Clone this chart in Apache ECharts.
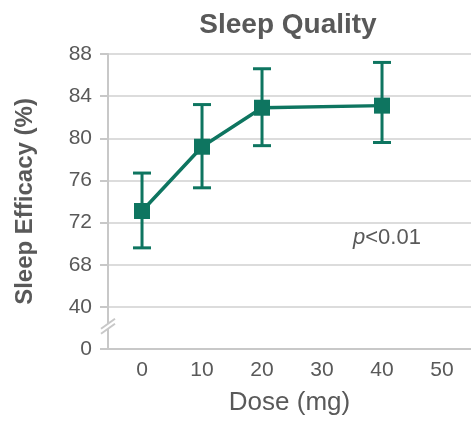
<!DOCTYPE html>
<html>
<head>
<meta charset="utf-8">
<script src="https://cdn.jsdelivr.net/npm/echarts@6/dist/echarts.min.js"></script>
<style>html,body{margin:0;padding:0;background:#fff}#c{width:471px;height:424px}</style>
</head>
<body>
<div id="c"></div>
<script>
const doses = [0, 10, 20, 40];
const meanEff = [73.1, 79.2, 82.9, 83.1];
const errLow = [69.6, 75.3, 79.3, 79.6];
const errHigh = [76.7, 83.2, 86.6, 87.2];
const yTickValues = [0, 40, 68, 72, 76, 80, 84, 88];
const xTickValues = [0, 10, 20, 30, 40, 50];

// broken axis: each tick gets an equal slot
function toPos(v) {
  for (let i = 0; i < yTickValues.length - 1; i++) {
    const a = yTickValues[i], b = yTickValues[i + 1];
    if (v <= b || i === yTickValues.length - 2) return i + (v - a) / (b - a);
  }
}

const teal = '#0e7560';
const txt = '#595959';
const font = 'Liberation Sans, Arial, sans-serif';

const chart = echarts.init(document.getElementById('c'));
const lineData = doses.map((d, i) => [d, toPos(meanEff[i])]);
const errData = doses.map((d, i) => [d, toPos(errLow[i]), toPos(errHigh[i])]);

chart.setOption({
  animation: false,
  title: {
    text: 'Sleep Quality', left: 288, top: 11, textAlign: 'center', padding: 0,
    textStyle: { fontFamily: font, fontSize: 28, fontWeight: 'bold', color: txt }
  },
  grid: { left: 108, right: 0, top: 54, bottom: 75, containLabel: false },
  xAxis: {
    type: 'value', min: -5.67, max: 54.83,
    name: 'Dose (mg)', nameLocation: 'middle', nameGap: 41,
    nameTextStyle: { fontFamily: font, fontSize: 26, color: txt },
    axisLine: { show: true, lineStyle: { color: '#c8c8c8', width: 2 } },
    axisTick: { show: false },
    splitLine: { show: false },
    axisLabel: { customValues: xTickValues, fontFamily: font, fontSize: 21, color: txt, margin: 11 }
  },
  yAxis: {
    type: 'value', min: 0, max: yTickValues.length - 1, interval: 1,
    name: 'Sleep Efficacy (%)', nameLocation: 'middle', nameGap: 71,
    nameTextStyle: { fontFamily: font, fontSize: 24, fontWeight: 'bold', color: txt },
    axisLine: { show: true, onZero: false, lineStyle: { color: '#c8c8c8', width: 2 } },
    axisTick: { show: true, length: 8, lineStyle: { color: '#c8c8c8', width: 2 } },
    splitLine: { show: true, lineStyle: { color: '#d0d0d0', width: 1.5 } },
    axisLabel: {
      fontFamily: font, fontSize: 21, color: txt, margin: 16,
      formatter: v => yTickValues[Math.round(v)] !== undefined ? String(yTickValues[Math.round(v)]) : ''
    }
  },
  series: [
    {
      type: 'custom',
      z: 3,
      data: errData,
      renderItem: function (params, api) {
        const x = api.value(0);
        const lo = api.coord([x, api.value(1)]);
        const hi = api.coord([x, api.value(2)]);
        const hw = 9;
        const st = { stroke: teal, lineWidth: 3 };
        return {
          type: 'group',
          children: [
            { type: 'line', shape: { x1: lo[0], y1: lo[1], x2: hi[0], y2: hi[1] }, style: st },
            { type: 'line', shape: { x1: lo[0] - hw, y1: lo[1], x2: lo[0] + hw, y2: lo[1] }, style: st },
            { type: 'line', shape: { x1: hi[0] - hw, y1: hi[1], x2: hi[0] + hw, y2: hi[1] }, style: st }
          ]
        };
      }
    },
    {
      type: 'line', z: 4,
      data: lineData,
      symbol: 'rect', symbolSize: 16,
      lineStyle: { color: teal, width: 3.5 },
      itemStyle: { color: teal },
      label: { show: false }
    }
  ]
});

function drawExtras() {
  const axisX = chart.convertToPixel({ xAxisIndex: 0 }, -5.67);
  const by = chart.convertToPixel({ yAxisIndex: 0 }, 0.6);
  const dx = 7, dy = 5, gap = 5;
  chart.setOption({
    graphic: [
      { type: 'polygon', z: 100, shape: { points: [[axisX - dx, by + dy], [axisX + dx, by - dy], [axisX + dx, by - dy + gap], [axisX - dx, by + dy + gap]] }, style: { fill: '#fff' } },
      { type: 'line', z: 101, shape: { x1: axisX - dx, y1: by + dy, x2: axisX + dx, y2: by - dy }, style: { stroke: '#c8c8c8', lineWidth: 2 } },
      { type: 'line', z: 101, shape: { x1: axisX - dx, y1: by + dy + gap, x2: axisX + dx, y2: by - dy + gap }, style: { stroke: '#c8c8c8', lineWidth: 2 } },
      {
        type: 'text', z: 101, left: 353, top: 227,
        style: {
          text: '{i|p}<0.01',
          rich: { i: { fontStyle: 'italic', fontFamily: font, fontSize: 22, fill: txt } },
          fontFamily: font, fontSize: 22, fill: txt
        }
      }
    ]
  });
}
drawExtras();
</script>
</body>
</html>
